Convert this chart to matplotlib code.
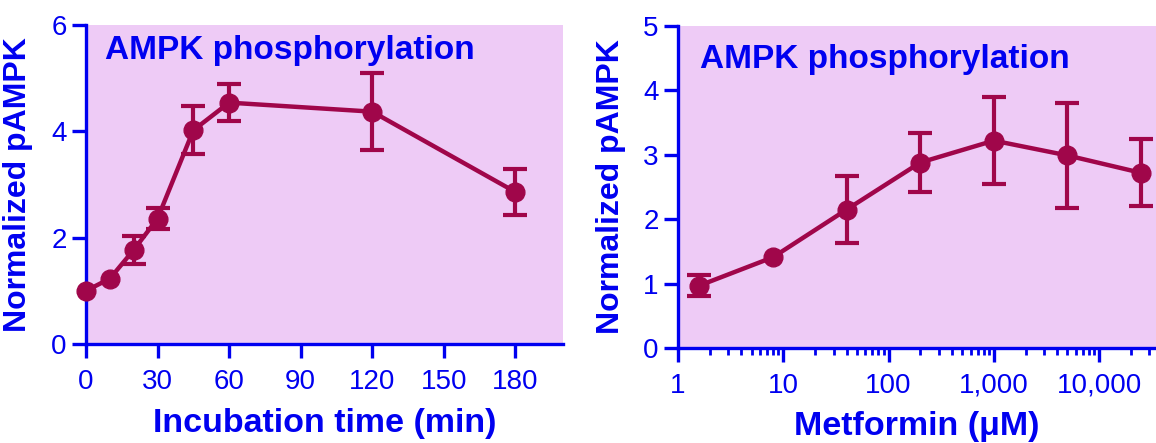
import numpy as np
import matplotlib
matplotlib.use("Agg")
import matplotlib.pyplot as plt
from matplotlib.ticker import FuncFormatter, LogLocator, NullFormatter

# time course
TIME_MIN = [0, 10, 20, 30, 45, 60, 120, 180]
TIME_PAMPK = [1.0, 1.23, 1.77, 2.36, 4.02, 4.54, 4.37, 2.86]
TIME_ERR = [0.0, 0.0, 0.27, 0.2, 0.45, 0.35, 0.73, 0.43]

# dose response
METFORMIN_UM = [1.6, 8, 40, 200, 1000, 5000, 25000]
DOSE_PAMPK = [0.97, 1.41, 2.15, 2.88, 3.22, 2.99, 2.72]
DOSE_ERR = [0.16, 0.0, 0.52, 0.46, 0.68, 0.82, 0.52]

TITLE = "AMPK phosphorylation"
YLABEL = "Normalized pAMPK"

BLUE = "#0000F0"
LINE = "#A0064A"
PINK = "#EECBF6"

plt.rcParams["font.family"] = ["Liberation Sans", "DejaVu Sans"]


def Style(ax):
	ax.set_facecolor(PINK)
	for s in ["top", "right"]:
		ax.spines[s].set_visible(False)
	for s in ["left", "bottom"]:
		ax.spines[s].set_color(BLUE)
		ax.spines[s].set_linewidth(2.4)
	ax.tick_params(which="major", direction="out", length=10, width=2.4, color=BLUE,
		labelcolor=BLUE, labelsize=20)
	ax.tick_params(axis="x", which="major", pad=8)
	ax.tick_params(axis="y", which="major", pad=4)
	ax.tick_params(which="minor", direction="out", length=5, width=2.0, color=BLUE)
	ax.set_ylabel(YLABEL, fontsize=23, fontweight="bold", color=BLUE)


def Series(ax, x, y, err):
	x = np.asarray(x, float)
	y = np.asarray(y, float)
	err = np.asarray(err, float)
	has = err > 0
	ax.errorbar(x[has], y[has], yerr=err[has], fmt="none", ecolor=LINE,
		capsize=8.5, capthick=3, elinewidth=3, clip_on=False, zorder=3)
	ax.plot(x, y, color=LINE, lw=3.2, marker="o", ms=13.5, clip_on=False, zorder=4)


def Main():
	fig = plt.figure(figsize=(11.56, 4.43), dpi=100)

	# left panel: incubation time
	ax1 = fig.add_axes([86 / 1156, 99 / 443, 477 / 1156, 319 / 443])
	Series(ax1, TIME_MIN, TIME_PAMPK, TIME_ERR)
	ax1.set_xlim(0, 200)
	ax1.set_ylim(0, 6)
	ax1.set_xticks([0, 30, 60, 90, 120, 150, 180])
	ax1.set_yticks([0, 2, 4, 6])
	Style(ax1)
	ax1.set_xlabel("Incubation time (min)", fontsize=24.5, fontweight="bold", color=BLUE)
	ax1.xaxis.set_label_coords(0.5, -0.2)
	ax1.yaxis.set_label_coords(-0.111, 0.5)
	ax1.text(0.04, 0.893, TITLE, transform=ax1.transAxes, fontsize=24, fontweight="bold",
		color=BLUE, va="baseline")

	# right panel: metformin dose
	ax2 = fig.add_axes([678 / 1156, 95 / 443, 478 / 1156, 322 / 443])
	Series(ax2, METFORMIN_UM, DOSE_PAMPK, DOSE_ERR)
	ax2.set_xscale("log")
	ax2.set_xlim(1, 10 ** 4.54)
	ax2.set_ylim(0, 5)
	ax2.set_xticks([1, 10, 100, 1000, 10000])
	ax2.xaxis.set_major_formatter(FuncFormatter(lambda v, p: "{:,.0f}".format(v)))
	ax2.xaxis.set_minor_locator(LogLocator(base=10, subs=np.arange(2, 10)))
	ax2.xaxis.set_minor_formatter(NullFormatter())
	ax2.set_yticks([0, 1, 2, 3, 4, 5])
	Style(ax2)
	ax2.set_xlabel("Metformin (μM)", fontsize=24.5, fontweight="bold", color=BLUE)
	ax2.xaxis.set_label_coords(0.5, -0.195)
	ax2.yaxis.set_label_coords(-0.109, 0.5)
	ax2.text(0.046, 0.87, TITLE, transform=ax2.transAxes, fontsize=24, fontweight="bold",
		color=BLUE, va="baseline")

	fig.savefig("out.png", dpi=100)
	plt.close(fig)


if __name__ == "__main__":
	Main()
